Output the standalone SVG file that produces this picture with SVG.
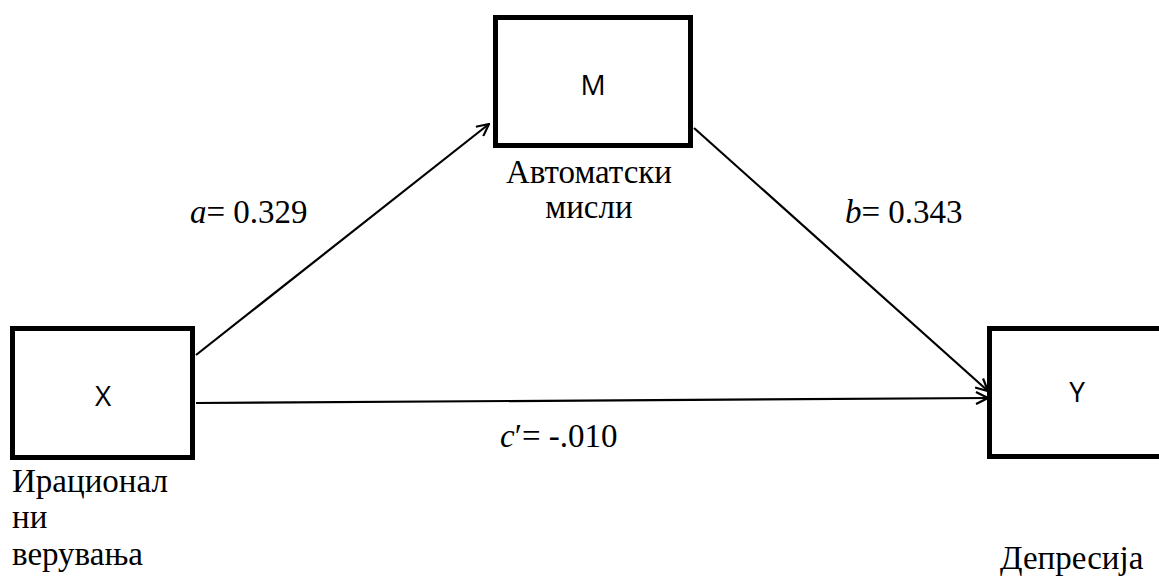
<svg xmlns="http://www.w3.org/2000/svg" width="1159" height="576" viewBox="0 0 1159 576">
  <style>
    .box { fill: #ffffff; stroke: #000000; stroke-width: 5; }
    .var { font-family: "Open Sans", "Liberation Sans", sans-serif; font-size: 28px; fill: #000; text-anchor: middle; }
    .lbl { font-family: "Liberation Serif", "Times New Roman", serif; font-size: 33px; fill: #000; }
    .coef { font-family: "Liberation Serif", "Times New Roman", serif; font-size: 33px; fill: #000; }
    .edge { fill: none; stroke: #000; stroke-width: 2.2; }
  </style>
  <defs>
    <marker id="arrow" viewBox="0 0 14 14" refX="13" refY="7" markerWidth="14" markerHeight="14" markerUnits="userSpaceOnUse" orient="auto">
      <path d="M1,1 L13,7 L1,13" fill="none" stroke="#000" stroke-width="2.2"/>
    </marker>
  </defs>
  <rect width="1159" height="576" fill="#ffffff"/>

  <g id="connectors">
    <line class="edge" x1="196" y1="355" x2="489" y2="124" marker-end="url(#arrow)"/>
    <line class="edge" x1="694" y1="128" x2="988" y2="391" marker-end="url(#arrow)"/>
    <line class="edge" x1="196" y1="403" x2="988" y2="398" marker-end="url(#arrow)"/>
    <text class="coef" x="190" y="223"><tspan font-style="italic">a</tspan>= 0.329</text>
    <text class="coef" x="845" y="223"><tspan font-style="italic">b</tspan>= 0.343</text>
    <text class="coef" x="500" y="447"><tspan font-style="italic">c</tspan>′= -.010</text>
  </g>

  <g id="node-m">
    <rect class="box" x="495.5" y="17.5" width="195" height="128"/>
    <text class="var" x="593" y="95">M</text>
    <text class="lbl" x="589" y="183" text-anchor="middle">Автоматски</text>
    <text class="lbl" x="589" y="218" text-anchor="middle">мисли</text>
  </g>

  <g id="node-x">
    <rect class="box" x="12.5" y="328.5" width="180" height="129"/>
    <text class="var" x="103" y="406">X</text>
    <text class="lbl" x="12" y="492">Ирационал</text>
    <text class="lbl" x="12" y="528">ни</text>
    <text class="lbl" x="12" y="565">верувања</text>
  </g>

  <g id="node-y">
    <rect class="box" x="989.5" y="328.5" width="180" height="128"/>
    <text class="var" x="1077" y="402">Y</text>
    <text class="lbl" x="1000" y="569">Депресија</text>
  </g>
</svg>
